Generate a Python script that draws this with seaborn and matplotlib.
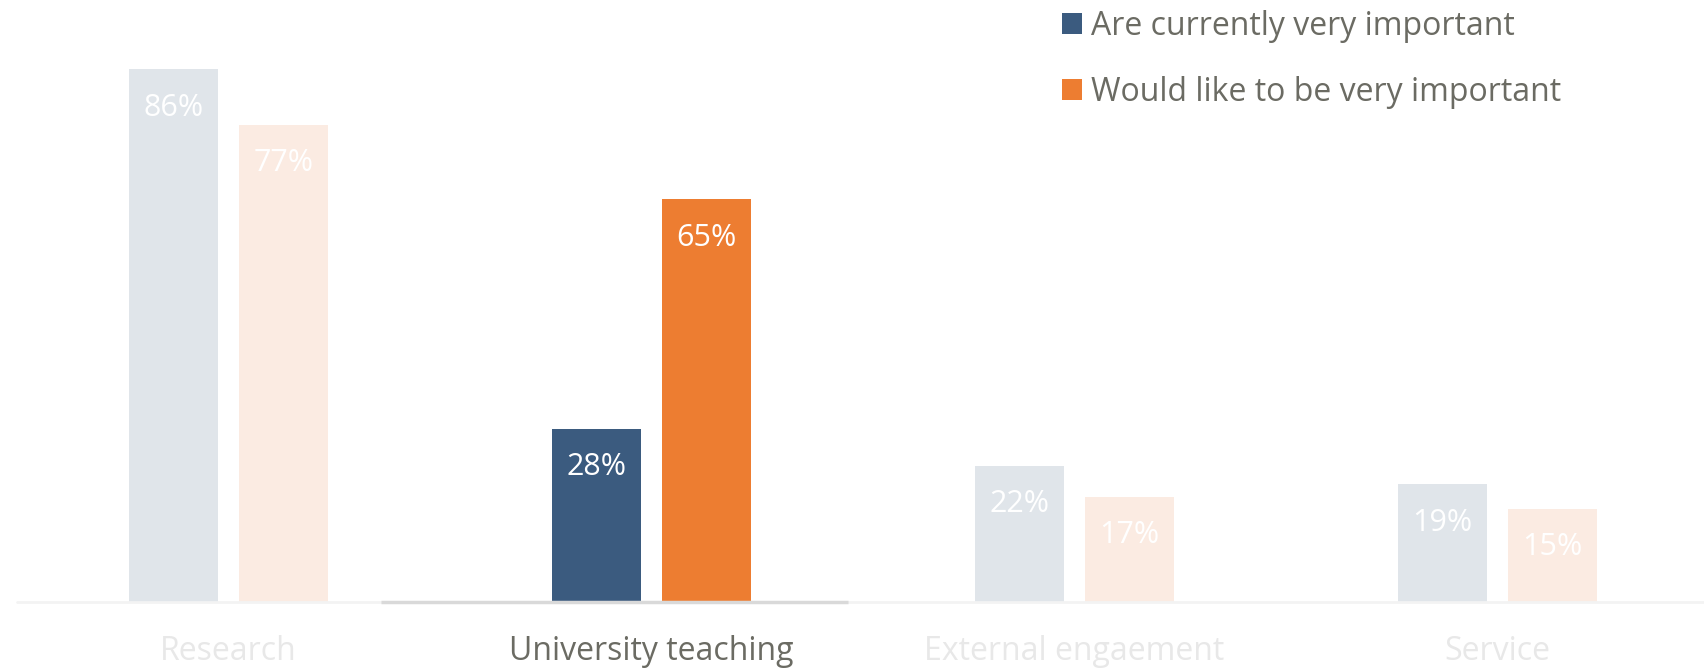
import matplotlib
matplotlib.use("Agg")
import matplotlib.pyplot as plt
from matplotlib.patches import Patch
import seaborn as sns
import pandas as pd

# ---- data ----
categories = ["Research", "University teaching", "External engaement", "Service"]
series_names = ["Are currently very important", "Would like to be very important"]
current_vals = [86, 28, 22, 19]
would_like_vals = [77, 65, 17, 15]
highlight = "University teaching"

# ---- styles ----
strong_colors = ["#3b5b7f", "#ed7d31"]
faded_colors = ["#e0e5ea", "#fbebe2"]
text_color = "#6b6b63"
faded_text = "#e8e8e8"

sns.set_theme(style="white")
plt.rcParams["font.family"] = ["Open Sans", "DejaVu Sans"]

df = pd.DataFrame({
    "category": categories * 2,
    "series": [series_names[0]] * len(categories) + [series_names[1]] * len(categories),
    "value": current_vals + would_like_vals,
})

W, H = 1704, 669
fig = plt.figure(figsize=(W / 100, H / 100), dpi=100)
ax = fig.add_axes([17 / W, 67 / H, 1692 / W, 602 / H])

sns.barplot(data=df, x="category", y="value", hue="series", order=categories,
            hue_order=series_names, palette=strong_colors, width=0.522, gap=0.193,
            legend=False, ax=ax, saturation=1)

hi = categories.index(highlight)
for s, cont in enumerate(ax.containers):
    for j, bar in enumerate(cont):
        bar.set_edgecolor("none")
        bar.set_facecolor(strong_colors[s] if j == hi else faded_colors[s])
        val = bar.get_height()
        ax.annotate(f"{val:.0f}%", xy=(bar.get_x() + bar.get_width() / 2, val),
                    xytext=(0, -27.5), textcoords="offset points",
                    ha="center", va="center", color="white", fontsize=22)

ax.set_xlim(-0.5, len(categories) - 0.5)
ax.set_ylim(0, 97.2)
ax.set_xlabel("")
ax.set_ylabel("")
ax.set_yticks([])
for sp in ax.spines.values():
    sp.set_visible(False)

# baseline
ax.axhline(0, color="#f3f3f3", lw=2, zorder=3, clip_on=False)
ax.hlines(0, hi - 0.64, hi + 0.465, color="#d9d9d9", lw=2.5, zorder=4, clip_on=False)

ax.tick_params(axis="x", length=0, pad=24)
ax.set_xticks(range(len(categories)))
ax.set_xticklabels(categories, fontsize=23)
for j, lab in enumerate(ax.get_xticklabels()):
    lab.set_color(text_color if j == hi else faded_text)

handles = [Patch(facecolor=c, edgecolor="none") for c in strong_colors]
fig.legend(handles, series_names, loc="upper left",
           bbox_to_anchor=(1062 / W, 1 - 10 / H), frameon=False,
           fontsize=23, labelcolor=text_color, handlelength=0.62,
           handleheight=0.62, handletextpad=0.3, labelspacing=1.02,
           borderpad=0, borderaxespad=0)

fig.savefig("out.png", dpi=100)
